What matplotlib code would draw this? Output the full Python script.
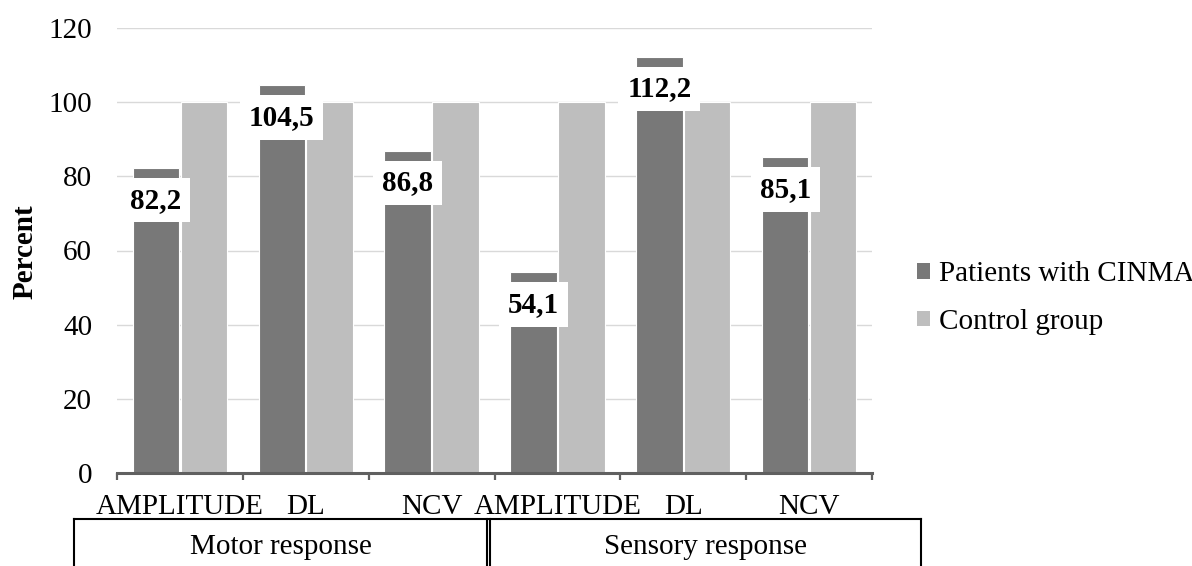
import matplotlib.pyplot as plt
import numpy as np
from matplotlib.patches import Patch

plt.rcParams['font.family'] = ['Liberation Serif', 'DejaVu Serif']

categories = ['AMPLITUDE', 'DL', 'NCV', 'AMPLITUDE', 'DL', 'NCV']
groups = ['Motor response', 'Sensory response']
patients = [82.2, 104.5, 86.8, 54.1, 112.2, 85.1]
control = [100, 100, 100, 100, 100, 100]
series_names = ['Patients with CINMA', 'Control group']

color_dark = '#787878'
color_light = '#bebebe'

fig = plt.figure(figsize=(11.92, 5.66), dpi=100)
ax = fig.add_axes([117 / 1192, 1 - 473 / 566, 755 / 1192, 445 / 566])

x = np.arange(len(categories))
w = 0.37
ax.bar(x - 0.19, patients, width=w, color=color_dark, edgecolor='white', linewidth=0.8, zorder=3)
ax.bar(x + 0.19, control, width=w, color=color_light, edgecolor='white', linewidth=0.8, zorder=3)

# etiquetas de datos (cajas blancas, algo por debajo del extremo de la barra)
for xi, v in zip(x, patients):
    ax.text(xi - 0.19, v - 8.6, f'{v:.1f}'.replace('.', ','), ha='center', va='center',
            fontsize=21, fontweight='bold', zorder=5,
            bbox=dict(boxstyle='square,pad=0.3', facecolor='white', edgecolor='none'))

ax.set_xlim(-0.5, len(categories) - 0.5)
ax.set_ylim(0, 120)
ax.set_yticks(range(0, 121, 20))
ax.yaxis.grid(True, color='#d9d9d9', linewidth=1.0, zorder=0)
ax.set_axisbelow(True)

for s in ['top', 'right', 'left']:
    ax.spines[s].set_visible(False)
ax.spines['bottom'].set_color('#606060')
ax.spines['bottom'].set_linewidth(2.2)
ax.spines['bottom'].set_zorder(4)

ax.set_xticks(np.arange(-0.5, len(categories), 1.0))
ax.set_xticklabels([])
ax.set_xticks(x, minor=True)
ax.set_xticklabels(categories, minor=True)
ax.tick_params(axis='x', which='major', length=5, width=1.6, color='#606060', direction='out')
ax.tick_params(axis='x', which='minor', length=0, pad=15, labelsize=21)
ax.tick_params(axis='y', length=0, pad=18, labelsize=21)

fig.text(25 / 1192, 1 - 252 / 566, 'Percent', rotation=90, ha='center', va='center',
         fontsize=21, fontweight='bold')

# cajas de grupos bajo el eje
def fx(px):
    return px / 1192

def fy(py):
    return 1 - py / 566

top = fy(519)
bot = fy(566)
line_kw = dict(color='black', linewidth=1.5, transform=fig.transFigure, clip_on=False)
fig.add_artist(plt.Line2D([fx(74), fx(921)], [top, top], **line_kw))
for px in [74, 487, 490, 921]:
    fig.add_artist(plt.Line2D([fx(px), fx(px)], [top, bot], **line_kw))
fig.text(fx(281), fy(547), groups[0], ha='center', va='center', fontsize=21)
fig.text(fx(705), fy(547), groups[1], ha='center', va='center', fontsize=21)

handles = [Patch(facecolor=color_dark, edgecolor='none'), Patch(facecolor=color_light, edgecolor='none')]
fig.legend(handles, series_names, loc='center left', bbox_to_anchor=(fx(905), fy(298)),
           frameon=False, fontsize=21, handlelength=0.45, handleheight=0.45,
           handletextpad=0.3, labelspacing=0.75, borderaxespad=0)

fig.savefig('out.png', dpi=100)
